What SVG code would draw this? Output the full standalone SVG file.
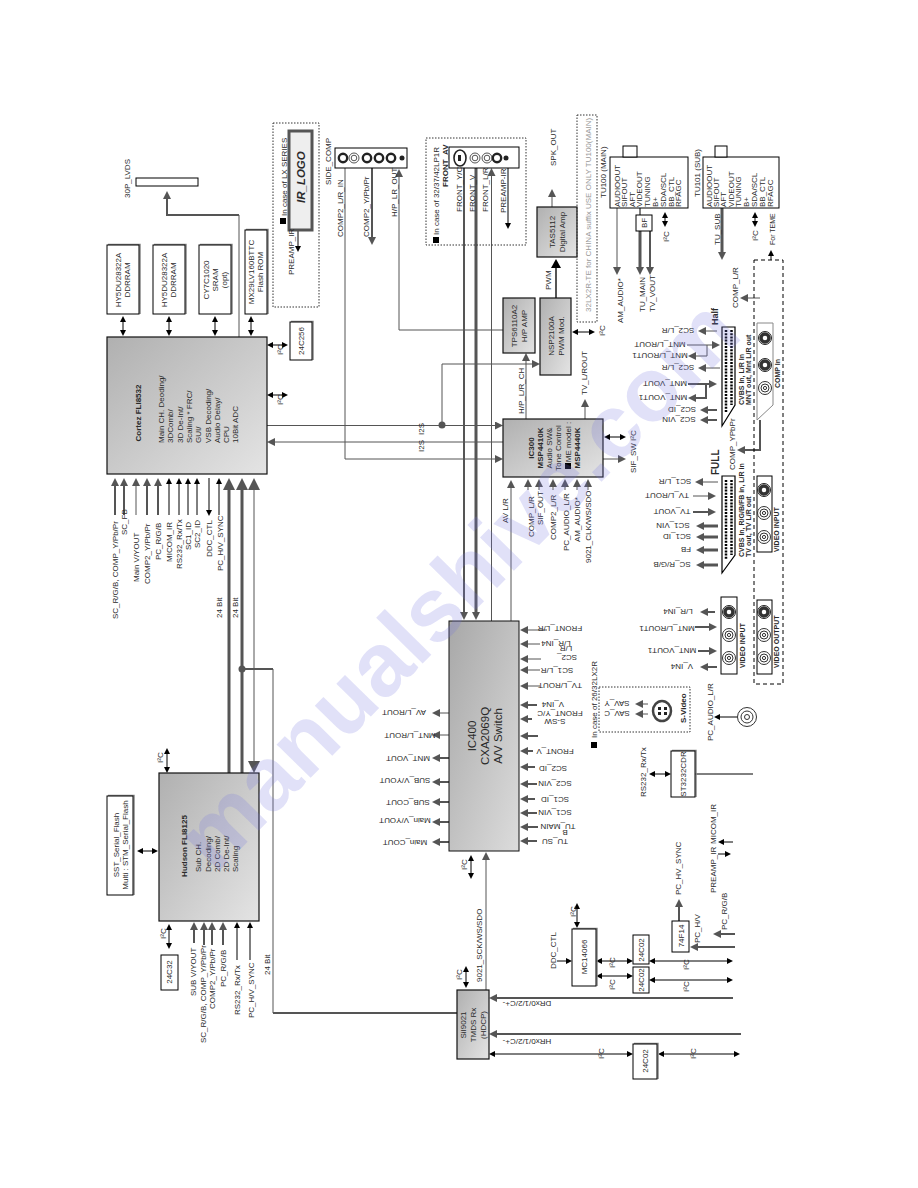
<svg xmlns="http://www.w3.org/2000/svg" width="918" height="1188" viewBox="0 0 918 1188">
<style>
text{font-family:"Liberation Sans",Arial,sans-serif;font-size:8px;fill:#2a2a2a}
.m{text-anchor:middle}.b{font-weight:bold}.s{font-size:7px}.l{font-size:11.500px}
.box{fill:#fff;stroke:#000;stroke-width:1}
.sh{fill:none;stroke:#888;stroke-width:1.500}
.grad{fill:url(#gr);stroke:#111;stroke-width:1.200}
.grad2{fill:url(#gr2);stroke:#111;stroke-width:1}
.dot{fill:none;stroke:#333;stroke-width:1;stroke-dasharray:1.500 1.500}
.dash{fill:none;stroke:#000;stroke-width:1;stroke-dasharray:4 3}
.pin{fill:none;stroke:#000;stroke-width:2.500;stroke-dasharray:2 1.200}
#conn path{fill:none}
.t{stroke:#000;stroke-width:1}
.g1{stroke:#555;stroke-width:1}
.g2{stroke:#555;stroke-width:2}
.g3{stroke:#555;stroke-width:3}
.ek{marker-end:url(#k)}.sk{marker-start:url(#k)}
.eg{marker-end:url(#g)}.eb{marker-end:url(#b)}.sb{marker-start:url(#b)}.em{marker-end:url(#m)}
</style>
<defs>
<linearGradient id="gr" x1="0" y1="0" x2="1" y2="1"><stop offset="0" stop-color="#b0b0b0"/><stop offset="1" stop-color="#e4e4e4"/></linearGradient>
<linearGradient id="gr2" x1="0" y1="0" x2="1" y2="1"><stop offset="0" stop-color="#a8a8a8"/><stop offset="1" stop-color="#dcdcdc"/></linearGradient>
<marker id="k" markerUnits="userSpaceOnUse" markerWidth="6" markerHeight="6" refX="2" refY="3" orient="auto-start-reverse"><path d="M0 0L6 3 0 6z" fill="#000"/></marker>
<marker id="g" markerUnits="userSpaceOnUse" markerWidth="8" markerHeight="8" refX="4" refY="4" orient="auto-start-reverse"><path d="M0 0L8 4 0 8z" fill="#555"/></marker>
<marker id="b" markerUnits="userSpaceOnUse" markerWidth="12" markerHeight="12" refX="8" refY="6" orient="auto-start-reverse"><path d="M0 0L12 6 0 12z" fill="#555"/></marker>
<marker id="m" markerUnits="userSpaceOnUse" markerWidth="10" markerHeight="10" refX="5" refY="5" orient="auto-start-reverse"><path d="M0 0L9 5 0 10z" fill="#000"/></marker>
<g id="j1"><circle r="4.200" fill="#fff" stroke="#222" stroke-width="2.400"/></g>
<g id="j2"><circle r="5" fill="#fff" stroke="#555" stroke-width="1"/><circle r="2.800" fill="none" stroke="#555" stroke-width="1"/></g>
<g id="j3"><circle r="6.500" fill="#fff" stroke="#333" stroke-width="1"/><circle r="4" fill="none" stroke="#333" stroke-width="1"/><circle r="1.600" fill="none" stroke="#333" stroke-width="1"/></g>
<g id="j4"><circle r="6.500" fill="#fff" stroke="#222" stroke-width="1"/><circle r="4" fill="none" stroke="#333" stroke-width="3.500"/></g>
</defs>
<rect width="918" height="1188" fill="#fff"/>

<g id="conn">
<path class="t ek sk" d="M123 320V332"/><path class="t ek sk" d="M169 320V332"/><path class="t ek sk" d="M215 320V332"/><path class="t ek sk" d="M251 320V332"/>
<path class="t ek sk" d="M271 345H284"/><path class="t ek sk" d="M271 395H284"/>
<path class="g1" d="M239 337V215"/>
<path class="g2 eg" d="M239 215H167V195"/>
<path class="g1 eg" d="M267 425.500H499"/>
<path class="g1 eg" d="M503 442H271"/>
<path class="g1 eg" d="M345 168V459H499"/>
<path class="g1 eg" d="M442 425V364H536"/>
<path class="g1 eg" d="M526 419V357"/>
<path class="g1 eg" d="M503 330H399V173"/>
<path class="g2 eg" d="M372 168V241"/>
<path class="g2 eg" d="M464 168V616"/>
<path class="g3 eg" d="M476 168V616"/>
<path class="g1 eg" d="M491.500 621V172"/>
<path class="g1 eg" d="M511 621V484"/>
<path class="t ek" d="M508 168V225"/>
<path class="t ek" d="M291 230H298V248"/>
<path class="g1 eg" d="M552 207V193"/>
<path class="g2 em" d="M556 298V263"/>
<path class="t ek sk" d="M576 332H591"/><path class="t ek sk" d="M665 216V223"/><path class="t ek sk" d="M755 216V223"/><path class="t ek sk" d="M608 437H622"/>
<path class="g1 eg" d="M617 208V271"/>
<path class="t" d="M640 208V215"/>
<path class="g3 eg" d="M640 231V271"/>
<path class="g2 eg" d="M650 231V271"/>
<path class="g3 eg" d="M722 208V256"/>
<path class="t ek" d="M771 260V254"/>
<path class="g1 eg" d="M760 298H744"/>
<path class="g2 eg" d="M760 420V450H741"/>
<path class="g1 eg" d="M603 459H622"/>
<path class="g1 eg" d="M585 419V403"/>
<path class="g1 eg" d="M528 490V483"/><path class="g1 eg" d="M539 490V483"/><path class="g1 eg" d="M553 490V483"/><path class="g1 eg" d="M565 490V483"/><path class="g1 eg" d="M577 490V483"/><path class="g1 eg" d="M588 490V483"/>
<path class="g1 eg" d="M717 331H702"/><path class="g1 eg" d="M687 345H716"/><path class="g1 eg" d="M707 345V356H692"/><path class="g1 eg" d="M720 368H702"/>
<path class="g2 eg" d="M688 384H713"/><path class="g2 eg" d="M706 384V398H692"/><path class="g2 eg" d="M717 410H704"/><path class="g2 eg" d="M717 420H704"/>
<path class="g1 eg" d="M718 482H699"/><path class="g1 eg" d="M693 496H712"/>
<path class="g2 eg" d="M693 512H712"/>
<path class="g3 eg" d="M718 526H700"/><path class="g3 eg" d="M718 537H700"/><path class="g3 eg" d="M718 550H700"/><path class="g3 eg" d="M718 565H700"/>
<path class="g2 eg" d="M715 612H704"/><path class="g2 eg" d="M695 627H713"/><path class="g2 eg" d="M698 651H713"/><path class="g2 eg" d="M717 667H704"/>
<path class="g1 eg" d="M449 713H436"/><path class="g1 eg" d="M449 735H436"/>
<path class="g2 eg" d="M449 758H436"/><path class="g2 eg" d="M449 782H436"/><path class="g2 eg" d="M449 802H436"/><path class="g2 eg" d="M449 822H436"/><path class="g2 eg" d="M449 842H436"/>
<path class="g1 eg" d="M547 630H524"/><path class="g1 eg" d="M540 644H524"/><path class="g1 eg" d="M541 659H524"/><path class="g1 eg" d="M540 670H524"/><path class="g1 eg" d="M540 686H524"/>
<path class="g2 eg" d="M537 705H524"/><path class="g2 eg" d="M532 719H524"/><path class="g2 eg" d="M538 736H524"/><path class="g2 eg" d="M533 751H524"/><path class="g2 eg" d="M535 767H524"/><path class="g2 eg" d="M537 784H524"/><path class="g2 eg" d="M535 799H524"/><path class="g2 eg" d="M537 813H524"/><path class="g2 eg" d="M538 827H524"/><path class="g2 eg" d="M537 841H524"/>
<path class="g1 eg" d="M648 704H639"/><path class="g1 eg" d="M648 714H639"/>
<path class="t ek" d="M740 717H718"/>
<path class="t ek sk" d="M653 774H667"/>
<path class="t" d="M695 774H753"/>
<path class="g3 eb" d="M229 773V482"/>
<path class="g3 eb" d="M242 773V482"/>
<path class="g1 sb eb" d="M254 482V769"/>
<path class="g2" d="M242 669H273"/>
<path class="g1" d="M273 669V1013"/>
<path class="g2" d="M273 1013H457"/>
<path class="t ek sk" d="M167 752V769"/><path class="t ek sk" d="M141 851H154"/><path class="t ek sk" d="M169 928V945"/>
<path class="g2 eg" d="M194 943V926"/><path class="g2 eg" d="M204 945V926"/><path class="g2 eg" d="M212 945V926"/><path class="g2 eg" d="M223 945V926"/>
<path class="t ek" d="M237 960V926"/><path class="t ek" d="M250 960V926"/>
<path class="g2 eg" d="M115 515V482"/><path class="g2 eg" d="M124 515V482"/><path class="g2 eg" d="M147 515V482"/><path class="g2 eg" d="M158 515V482"/>
<path class="g1 eg" d="M136 515V482"/>
<path class="t ek" d="M169 515V482"/><path class="t ek" d="M179 515V482"/><path class="t ek" d="M188 515V482"/><path class="t ek" d="M197 515V482"/><path class="t ek" d="M209 478V512"/><path class="t ek" d="M219 515V482"/>
<path class="t ek sk" d="M471 859V875"/><path class="t ek sk" d="M466 970V984"/><path class="t ek sk" d="M577 907V924"/>
<path class="g1 eg" d="M486 990V856"/>
<path class="g2 eg" d="M733 998H493"/><path class="g2 eg" d="M741 1034H493"/>
<path class="t ek sk" d="M493 1054H629"/><path class="t ek sk" d="M662 1054H736"/><path class="t ek sk" d="M600 961H629"/><path class="t ek sk" d="M600 976H629"/><path class="t ek sk" d="M653 961H729"/><path class="t ek sk" d="M653 980H729"/>
<path class="t ek" d="M557 961H568"/><path class="t ek" d="M733 842H722"/><path class="t ek" d="M718 854H727"/>
<path class="g2 eg" d="M679 921V903"/><path class="g2 eg" d="M735 947H694"/><path class="g2 eg" d="M735 934H717"/>
<circle cx="442" cy="425" r="3.500" fill="#555"/>
<circle cx="242" cy="669" r="3.500" fill="#555"/>
</g>

<g id="lvds"><rect class="box" x="136" y="178" width="62" height="8"/><text transform="translate(130 198) rotate(-90)">30P_LVDS</text></g>

<g id="ddr1"><path class="sh" d="M108 244.500H140V314"/><rect class="box" x="107" y="245" width="32" height="69"/><text class="m" transform="translate(121 280) rotate(-90)">HY5DU28322A</text><text class="m" transform="translate(130 280) rotate(-90)">DDRRAM</text></g>
<g id="ddr2"><path class="sh" d="M154 244.500H186V314"/><rect class="box" x="153" y="245" width="32" height="69"/><text class="m" transform="translate(167 280) rotate(-90)">HY5DU28322A</text><text class="m" transform="translate(176 280) rotate(-90)">DDRRAM</text></g>
<g id="sram"><path class="sh" d="M200 244.500H232V314"/><rect class="box" x="199" y="245" width="32" height="69"/><text class="m" transform="translate(209 280) rotate(-90)">CY7C1020</text><text class="m" transform="translate(218 280) rotate(-90)">SRAM</text><text class="m" transform="translate(227 280) rotate(-90)">(opt)</text></g>
<g id="flash"><path class="sh" d="M246 229.500H268V314"/><rect class="box" x="245" y="230" width="22" height="84"/><text class="m" transform="translate(254 272) rotate(-90)">MX29LV160BTTC</text><text class="m" transform="translate(263 272) rotate(-90)">Flash ROM</text></g>
<g id="eep256"><path class="sh" d="M291 321.500H313V360"/><rect class="box" x="290" y="322" width="22" height="38"/><text class="m" transform="translate(304 341) rotate(-90)">24C256</text></g>
<g id="i2c-a"><text transform="translate(283 355) rotate(-90)">I²C</text><text transform="translate(283 405) rotate(-90)">I²C</text></g>

<g id="cortez"><rect class="grad" x="107" y="337" width="160" height="137"/>
<text class="b m" transform="translate(141 413) rotate(-90)">Cortez FLI8532</text>
<text transform="translate(164 443) rotate(-90)">Main CH. Deoding/</text>
<text transform="translate(173 443) rotate(-90)">3DComb/</text>
<text transform="translate(183 443) rotate(-90)">3D De-Int/</text>
<text transform="translate(192 443) rotate(-90)">Scaling * FRC/</text>
<text transform="translate(201 443) rotate(-90)">GUI/</text>
<text transform="translate(211 443) rotate(-90)">VSB Decoding/</text>
<text transform="translate(220 443) rotate(-90)">Audio Delay/</text>
<text transform="translate(229 443) rotate(-90)">CPU</text>
<text transform="translate(238 443) rotate(-90)">10Bit ADC</text></g>

<g id="cortez-in">
<text transform="translate(118 619) rotate(-90)">SC_R/G/B, COMP_Y/Pb/Pr</text>
<text transform="translate(127 535) rotate(-90)">SC_FB</text>
<text transform="translate(139 582) rotate(-90)">Main V/YOUT</text>
<text transform="translate(150 584) rotate(-90)">COMP2_Y/Pb/Pr</text>
<text transform="translate(161 560) rotate(-90)">PC_R/G/B</text>
<text transform="translate(172 562) rotate(-90)">MICOM_IR</text>
<text transform="translate(182 569) rotate(-90)">RS232_Rx/Tx</text>
<text transform="translate(191 550) rotate(-90)">SC1_ID</text>
<text transform="translate(200 548) rotate(-90)">SC2_ID</text>
<text transform="translate(212 557) rotate(-90)">DDC_CTL</text>
<text transform="translate(223 571) rotate(-90)">PC_H/V_SYNC</text>
<text transform="translate(222 618) rotate(-90)">24  Bit</text>
<text transform="translate(238 618) rotate(-90)">24  Bit</text>
</g>

<g id="lx"><rect class="dot" x="273" y="123" width="46" height="184"/>
<rect x="289" y="131" width="23" height="99" fill="#eee" stroke="#555" stroke-width="3"/>
<text class="b l" transform="translate(305 203) rotate(-90)" style="font-style:italic">IR_LOGO</text>
<text transform="translate(287 216) rotate(-90)">In case of LX SERIES</text>
<rect x="280" y="218" width="6" height="6" fill="#000"/>
<text transform="translate(294 275) rotate(-90)">PREAMP_IR</text></g>

<g id="side"><rect class="box" x="335" y="148" width="72" height="20"/>
<use href="#j1" x="343" y="158"/><use href="#j2" x="354" y="158"/><use href="#j1" x="367" y="158"/><use href="#j1" x="379" y="158"/><use href="#j1" x="391" y="158"/><circle cx="402" cy="158" r="2.500" fill="#222"/>
<text transform="translate(331 185) rotate(-90)">SIDE_COMP</text>
<text transform="translate(343 237) rotate(-90)">COMP2_L/R_IN</text>
<text transform="translate(369 237) rotate(-90)">COMP2_Y/Pb/Pr</text>
<text transform="translate(397 217) rotate(-90)">H/P_LR_OUT</text></g>

<g id="front"><rect class="dot" x="426" y="138" width="100" height="107"/>
<rect class="box" x="449" y="147" width="70" height="21"/>
<ellipse cx="460" cy="158" rx="6" ry="8" fill="#fff" stroke="#222" stroke-width="1.600"/><rect x="458" y="155" width="3" height="6" fill="#222"/>
<use href="#j2" x="475" y="158"/><use href="#j2" x="487" y="158"/><use href="#j1" x="497" y="158"/><circle cx="506" cy="158" r="2.500" fill="#222"/>
<text class="b" transform="translate(448 187) rotate(-90)">FRONT_AV</text>
<text transform="translate(439 235) rotate(-90)">In case of 32/37/42LP1R</text>
<rect x="433" y="237" width="6" height="6" fill="#000"/>
<text transform="translate(462 212) rotate(-90)">FRONT_Y/C</text>
<text transform="translate(475 212) rotate(-90)">FRONT_V</text>
<text transform="translate(488 212) rotate(-90)">FRONT_L/R</text>
<text transform="translate(506 213) rotate(-90)">PREAMP-IR</text></g>

<g id="tas"><rect class="grad" x="537" y="207" width="40" height="50"/><text class="m" transform="translate(555 232) rotate(-90)">TAS5112</text><text class="m" transform="translate(565 232) rotate(-90)">Digital Amp</text>
<text transform="translate(556 166) rotate(-90)">SPK_OUT</text>
<text transform="translate(551 290) rotate(-90)">PWM</text></g>
<g id="tps"><rect class="grad" x="503" y="298" width="32" height="55"/><text class="m" transform="translate(517 326) rotate(-90)">TPS6110A2</text><text class="m" transform="translate(527 326) rotate(-90)">H/P AMP</text></g>
<g id="nsp"><rect class="grad" x="540" y="298" width="31" height="77"/><text class="m" transform="translate(554 336) rotate(-90)">NSP2100A</text><text class="m" transform="translate(564 336) rotate(-90)">PWM Mod.</text>
<text transform="translate(605 336) rotate(-90)">I²C</text></g>
<g id="china"><rect class="dot" x="577" y="115" width="20" height="207"/><text transform="translate(591 312) rotate(-90)" style="fill:#999">32LX2R-TE for CHINA suffix USE ONLY TU100(MAIN)</text></g>

<g id="tu100"><rect class="box" x="610" y="157" width="78" height="51"/><rect class="box" x="623" y="146" width="14" height="11"/>
<text transform="translate(606 198) rotate(-90)">TU100 (MAIN)</text>
<text transform="translate(620 207) rotate(-90)">AUDIOOUT</text><text transform="translate(627 207) rotate(-90)">SIFOUT</text><text transform="translate(635 207) rotate(-90)">AFT</text><text transform="translate(642 207) rotate(-90)">VIDEOUT</text><text transform="translate(650 207) rotate(-90)">TUNING</text><text transform="translate(658 207) rotate(-90)">B+</text><text transform="translate(666 207) rotate(-90)">SDA/SCL</text><text transform="translate(674 207) rotate(-90)">BB_CTL</text><text transform="translate(681 207) rotate(-90)">RFAGC</text>
<text transform="translate(669 242) rotate(-90)">I²C</text>
<text transform="translate(623 323) rotate(-90)">AM_AUDIO*</text>
<text transform="translate(645 312) rotate(-90)">TU_MAIN</text>
<text transform="translate(655 312) rotate(-90)">TV_VOUT</text></g>
<g id="bf"><rect class="box" x="636" y="215" width="16" height="16"/><text class="m" transform="translate(647 223) rotate(-90)">BF</text></g>
<g id="tu101"><rect class="box" x="703" y="157" width="76" height="51"/><rect class="box" x="715" y="146" width="12" height="11"/>
<text transform="translate(700 197) rotate(-90)">TU101 (SUB)</text>
<text transform="translate(712 207) rotate(-90)">AUDIOOUT</text><text transform="translate(719 207) rotate(-90)">SIFOUT</text><text transform="translate(726 207) rotate(-90)">AFT</text><text transform="translate(734 207) rotate(-90)">VIDEOUT</text><text transform="translate(741 207) rotate(-90)">TUNING</text><text transform="translate(749 207) rotate(-90)">B+</text><text transform="translate(757 207) rotate(-90)">SDA/SCL</text><text transform="translate(765 207) rotate(-90)">BB_CTL</text><text transform="translate(773 207) rotate(-90)">RFAGC</text>
<text transform="translate(720 245) rotate(-90)">TU_SUB</text>
<text transform="translate(758 241) rotate(-90)">I²C</text>
<text class="s" transform="translate(775 245) rotate(-90)">For TEME</text></g>

<g id="rear"><rect class="dash" x="754" y="260" width="29" height="424"/>
<text transform="translate(738 308) rotate(-90)">COMP_L/R</text>
<text transform="translate(735 470) rotate(-90)">COMP_YPbPr</text>
<path d="M757 323H773V405L757 420z" fill="#fff" stroke="#888"/>
<use href="#j4" x="765" y="338"/><use href="#j4" x="765" y="365"/><use href="#j3" x="765" y="388"/>
<text class="b s" transform="translate(780 388) rotate(-90)">COMP In</text>
<rect class="box" x="757" y="476" width="15" height="76"/>
<use href="#j4" x="764" y="490"/><use href="#j3" x="764" y="513"/><use href="#j3" x="764" y="537"/>
<text class="b s" transform="translate(779 552) rotate(-90)">VIDEO INPUT</text>
<rect class="box" x="757" y="600" width="15" height="74"/>
<use href="#j4" x="764" y="612"/><use href="#j3" x="764" y="635"/><use href="#j3" x="764" y="658"/>
<text class="b s" transform="translate(779 668) rotate(-90)">VIDEO OUTPUT</text></g>

<g id="half"><path d="M722 327H735V405L722 426z" fill="#fff" stroke="#000" stroke-width="1.200"/><path class="pin" d="M726 330V412M731.500 330V405"/>
<text class="b" transform="translate(718 325) rotate(-90)" style="font-size:9px">Half</text>
<text class="b s" transform="translate(744 405) rotate(-90)">CVBS In, L/R In</text>
<text class="b s" transform="translate(751 405) rotate(-90)">MNT out, Mnt L/R out</text>
<text class="m" transform="translate(678 328) rotate(180)">SC2_L/R</text>
<text class="m" transform="translate(660 342) rotate(180)">MNT_L/ROUT</text>
<text class="m" transform="translate(660 353) rotate(180)">MNT_L/ROUT1</text>
<text class="m" transform="translate(678 365) rotate(180)">SC2_L/R</text>
<text class="m" transform="translate(665 381) rotate(180)">MNT_VOUT</text>
<text class="m" transform="translate(663 395) rotate(180)">MNT_VOUT1</text>
<text class="m" transform="translate(682 407) rotate(180)">SC2_ID</text>
<text class="m" transform="translate(679 417) rotate(180)">SC2_VIN</text></g>

<g id="full"><path d="M722 476H735V555L722 573z" fill="#fff" stroke="#000" stroke-width="1.200"/><path class="pin" d="M726 480V560M731.500 480V555"/>
<text class="b" transform="translate(719 475) rotate(-90)" style="font-size:10px">FULL</text>
<text class="b s" transform="translate(744 557) rotate(-90)">CVBS In, R/G/B/FB in, L/R in</text>
<text class="b s" transform="translate(751 557) rotate(-90)">TV out, TV L/R out</text>
<text class="m" transform="translate(675 479) rotate(180)">SC1_L/R</text>
<text class="m" transform="translate(667 493) rotate(180)">TV_L/ROUT</text>
<text class="m" transform="translate(672 509) rotate(180)">TV_VOUT</text>
<text class="m" transform="translate(673 523) rotate(180)">SC1_VIN</text>
<text class="m" transform="translate(677 534) rotate(180)">SC1_ID</text>
<text class="m" transform="translate(686 547) rotate(180)">FB</text>
<text class="m" transform="translate(672 562) rotate(180)">SC_R/G/B</text></g>

<g id="vin2"><rect class="box" x="721" y="597" width="16" height="77"/>
<use href="#j4" x="729" y="612"/><use href="#j3" x="729" y="635"/><use href="#j3" x="729" y="658"/>
<text class="b s" transform="translate(745 668) rotate(-90)">VIDEO INPUT</text>
<text class="m" transform="translate(678 609) rotate(180)">L/R_IN4</text>
<text class="m" transform="translate(667 626) rotate(180)">MNT_L/ROUT1</text>
<text class="m" transform="translate(672 648) rotate(180)">MNT_VOUT1</text>
<text class="m" transform="translate(682 664) rotate(180)">V_IN4</text></g>

<g id="ic300"><rect class="grad" x="503" y="419" width="100" height="58"/>
<text class="b m" transform="translate(534 448) rotate(-90)">IC300</text>
<text class="b m" transform="translate(543 448) rotate(-90)">MSP4410K</text>
<text class="m" transform="translate(552 448) rotate(-90)">Audio SW&amp;</text>
<text class="m" transform="translate(561 448) rotate(-90)">Tone Control</text>
<text class="m" transform="translate(571 442) rotate(-90)">ME model :</text>
<rect x="565" y="463" width="6" height="6" fill="#000"/>
<text class="b m" transform="translate(580 448) rotate(-90)">MSP4440K</text>
<text transform="translate(524 414) rotate(-90)">H/P_L/R_CH</text>
<text transform="translate(587 395) rotate(-90)">TV_L/ROUT</text>
<text transform="translate(636 441) rotate(-90)">I²C</text>
<text transform="translate(636 473) rotate(-90)">SIF_SW</text>
<text transform="translate(424 435) rotate(-90)">I2S</text>
<text transform="translate(424 452) rotate(-90)">I2S</text>
<text transform="translate(508 523) rotate(-90)">AV L/R</text>
<text transform="translate(534 537) rotate(-90)">COMP_L/R</text>
<text transform="translate(543 525) rotate(-90)">SIF_OUT</text>
<text transform="translate(556 540) rotate(-90)">COMP2_L/R</text>
<text transform="translate(569 551) rotate(-90)">PC_AUDIO_L/R</text>
<text transform="translate(580 542) rotate(-90)">AM_AUDIO*</text>
<text transform="translate(591 563) rotate(-90)">9021_CLK/WS/SDO</text></g>

<g id="ic400"><rect class="grad2" x="449" y="621" width="70" height="230"/>
<text class="l m" transform="translate(475.500 736) rotate(-90)">IC400</text>
<text class="l m" transform="translate(488.500 736) rotate(-90)">CXA2069Q</text>
<text class="l m" transform="translate(502 736) rotate(-90)">A/V Switch</text>
<text class="m" transform="translate(404 710) rotate(180)">AV_L/ROUT</text>
<text class="m" transform="translate(410 733) rotate(180)">MNT_L/ROUT</text>
<text class="m" transform="translate(408 756) rotate(180)">MNT_VOUT</text>
<text class="m" transform="translate(405 778) rotate(180)">SUB_V/YOUT</text>
<text class="m" transform="translate(408 800) rotate(180)">SUB_COUT</text>
<text class="m" transform="translate(405 818) rotate(180)">Main_V/YOUT</text>
<text class="m" transform="translate(405 840) rotate(180)">Main_COUT</text>
<text class="m" transform="translate(560 626) rotate(180)">FRONT_L/R</text>
<text class="m" transform="translate(556 641) rotate(180)">L/R_IN4</text>
<text class="m" transform="translate(566 646) rotate(180)">L/R</text>
<text class="m" transform="translate(567 655) rotate(180)">SC2_</text>
<text class="m" transform="translate(557 668) rotate(180)">SC1_L/R</text>
<text class="m" transform="translate(560 683) rotate(180)">TV_L/ROUT</text>
<text class="m" transform="translate(553 702) rotate(180)">V_IN4</text>
<text class="m" transform="translate(560 711) rotate(180)">FRONT_Y/C</text>
<text class="m" transform="translate(555 719) rotate(180)">S-SW</text>
<text class="m" transform="translate(555 749) rotate(180)">FRONT_V</text>
<text class="m" transform="translate(553 766) rotate(180)">SC2_ID</text>
<text class="m" transform="translate(555 781) rotate(180)">SC2_VIN</text>
<text class="m" transform="translate(555 797) rotate(180)">SC1_ID</text>
<text class="m" transform="translate(555 810) rotate(180)">SC1_VIN</text>
<text class="m" transform="translate(558 824) rotate(180)">TU_MAIN</text>
<text class="m" transform="translate(565 830) rotate(180)">B</text>
<text class="m" transform="translate(555 839) rotate(180)">TU_SU</text>
<text transform="translate(467 870) rotate(-90)">I²C</text>
<text transform="translate(482 982) rotate(-90)">9021_SCK/WS/SDO</text></g>

<g id="svideo"><rect class="dot" x="599" y="687" width="91" height="45"/>
<text transform="translate(597 738) rotate(-90)">In case of 26/32LX2R</text>
<rect x="591" y="742" width="6" height="6" fill="#000"/>
<text class="b" transform="translate(686 723) rotate(-90)">S-Video</text>
<ellipse cx="662" cy="711" rx="9" ry="10" fill="#fff" stroke="#444" stroke-width="2.500"/>
<path d="M658 707h3v3h-3zM664 707h3v3h-3zM658 712h3v3h-3zM664 712h3v3h-3z" fill="#222"/>
<text class="m" transform="translate(617 701) rotate(180)">SAV_Y</text>
<text class="m" transform="translate(617 711) rotate(180)">SAV_C</text></g>

<g id="pcaudio"><circle cx="747" cy="717" r="9.500" fill="#fff" stroke="#333"/><circle cx="747" cy="717" r="6" fill="none" stroke="#333"/><circle cx="747" cy="717" r="2.500" fill="none" stroke="#333"/>
<text transform="translate(713 741) rotate(-90)">PC_AUDIO_L/R</text></g>

<g id="st3232"><path class="sh" d="M672 750.500H696V797"/><rect class="box" x="671" y="751" width="24" height="46"/><text class="m" transform="translate(686 774) rotate(-90)">ST3232CDR</text>
<text transform="translate(646 797) rotate(-90)">RS232_Rx/Tx</text></g>

<g id="hudson"><rect class="grad" x="159" y="773" width="100" height="148"/>
<text class="b m" transform="translate(187 846) rotate(-90)">Hudson FLI8125</text>
<text transform="translate(201 872) rotate(-90)">Sub CH.</text>
<text transform="translate(211 872) rotate(-90)">Decoding/</text>
<text transform="translate(220 872) rotate(-90)">2D Comb/</text>
<text transform="translate(229 872) rotate(-90)">2D De-Int/</text>
<text transform="translate(238 872) rotate(-90)">Scaling</text>
<text transform="translate(163 763) rotate(-90)">I²C</text>
<text transform="translate(166 939) rotate(-90)">I²C</text>
<text transform="translate(196 996) rotate(-90)">SUB V/YOUT</text>
<text transform="translate(206 1043) rotate(-90)">SC_R/G/B, COMP_Y/Pb/Pr</text>
<text transform="translate(215 1009) rotate(-90)">COMP2_Y/Pb/Pr</text>
<text transform="translate(226 987) rotate(-90)">PC_R/G/B</text>
<text transform="translate(240 1015) rotate(-90)">RS232_Rx/Tx</text>
<text transform="translate(254 1018) rotate(-90)">PC_H/V_SYNC</text>
<text transform="translate(270 975) rotate(-90)">24  Bit</text></g>
<g id="sst"><path class="sh" d="M108 795.500H134V895"/><rect class="box" x="107" y="796" width="26" height="99"/><text class="m" transform="translate(119 845) rotate(-90)">SST_Serial_Flash</text><text class="m" transform="translate(128 845) rotate(-90)">Multi : STM_Serial_Flash</text></g>
<g id="eep32"><rect class="box" x="161" y="955" width="17" height="35"/><text class="m" transform="translate(172 972) rotate(-90)">24C32</text></g>

<g id="sii"><rect class="grad" x="457" y="990" width="32" height="69"/>
<text class="m" transform="translate(466 1025) rotate(-90)">SiI9021</text>
<text class="m" transform="translate(476 1025) rotate(-90)">TMDS Rx</text>
<text class="m" transform="translate(486 1025) rotate(-90)">(HDCP)</text>
<text transform="translate(462 980) rotate(-90)">I²C</text>
<text class="m" transform="translate(527 1001) rotate(180)">DRx0/1/2/C+-</text>
<text class="m" transform="translate(527 1039) rotate(180)">HRx0/1/2/C+-</text></g>
<g id="mc"><path class="sh" d="M573 928.500H597V986"/><rect class="box" x="572" y="929" width="24" height="57"/><text class="m" transform="translate(587 957) rotate(-90)">MC14066</text>
<text transform="translate(576 917) rotate(-90)">I²C</text>
<text transform="translate(556 969) rotate(-90)">DDC_CTL</text>
<text transform="translate(615 968) rotate(-90)">I²C</text>
<text transform="translate(615 990) rotate(-90)">I²C</text></g>
<g id="e1"><rect class="box" x="633" y="935" width="16" height="29"/><text class="m" transform="translate(644 950) rotate(-90)">24C02</text></g>
<g id="e2"><rect class="box" x="633" y="967" width="16" height="26"/><text class="m" transform="translate(644 980) rotate(-90)">24C02</text></g>
<g id="e3"><path class="sh" d="M634 1043.500H658V1079"/><rect class="box" x="633" y="1044" width="24" height="35"/><text class="m" transform="translate(648 1061) rotate(-90)">24C02</text>
<text transform="translate(604 1059) rotate(-90)">I²C</text>
<text transform="translate(696 1059) rotate(-90)">I²C</text></g>
<g id="f14"><rect class="box" x="672" y="921" width="17" height="31"/><text class="m" transform="translate(684 936) rotate(-90)">74F14</text>
<text transform="translate(681 895) rotate(-90)">PC_HV_SYNC</text>
<text transform="translate(700 943) rotate(-90)">PC_H/V</text>
<text transform="translate(727 930) rotate(-90)">PC_R/G/B</text>
<text transform="translate(716 893) rotate(-90)">PREAMP_IR</text>
<text transform="translate(716 844) rotate(-90)">MICOM_IR</text>
<text transform="translate(689 970) rotate(-90)">I²C</text>
<text transform="translate(689 992) rotate(-90)">I²C</text></g>

<text id="watermark" transform="translate(215 875) rotate(-45.500)" style="font-size:90px;font-weight:bold;fill:#7878e0;fill-opacity:.22">manualshive.com</text>
</svg>
